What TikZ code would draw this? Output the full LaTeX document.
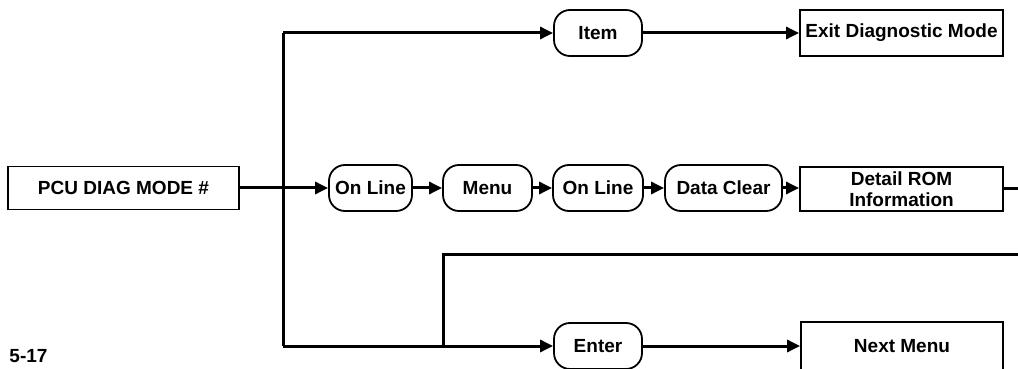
\documentclass[tikz,border=0pt]{standalone}
\usepackage{fontspec}
\setmainfont{Liberation Sans}
\usetikzlibrary{arrows.meta}

\begin{document}
\begin{tikzpicture}[x=0.5pt,y=-0.5pt,
      font=\fontsize{9.5}{10.4}\selectfont\bfseries,
      line width=1.5pt,
      box/.style={draw,line width=0.9pt,inner sep=0pt,align=center},
      keybox/.style={draw,line width=0.9pt,inner sep=0pt,rounded corners=8pt,minimum height=23pt},
      flow/.style={-{Triangle[length=6.5pt,width=6pt]}}]
      \useasboundingbox (0,0) rectangle (1018,369);
      % boxes
      \node[box,minimum width=115.5pt,minimum height=21.5pt] (pcu) at (123.5,188) {PCU DIAG MODE \#};
      \node[box,minimum width=101.5pt,minimum height=23pt] (exit) at (901.5,33) {Exit Diagnostic Mode};
      \node[box,minimum width=101.5pt,minimum height=22pt] (detail) at (901.5,189) {Detail ROM\\Information};
      \node[box,minimum width=101pt,minimum height=24pt] (next) at (902,346) {Next Menu};
      % keys
      \node[keybox,minimum width=44pt] (item) at (598,33) {Item};
      \node[keybox,minimum width=41.5pt] (online1) at (370.5,188) {On Line};
      \node[keybox,minimum width=44.5pt] (menu) at (487.5,188) {Menu};
      \node[keybox,minimum width=45pt] (online2) at (598,188) {On Line};
      \node[keybox,minimum width=58.5pt] (dataclr) at (723.5,188) {Data Clear};
      \node[keybox,minimum width=44pt] (enter) at (598,346) {Enter};
      \node (fig) at (28.5,356) {5-17};
      % branch points
      \coordinate (top) at (283,33);
      \coordinate (split) at (283,188);
      \coordinate (bot) at (283,346);
      \coordinate (loop) at (443,346);
      \coordinate (loopend) at (1018,254);
      \coordinate (detailend) at (1018,189);
      % lines
      \draw (pcu) -- (split);
      \draw (top) -- (bot);
      \draw[flow] (top) -- (item);
      \draw[flow] (item) -- (exit);
      \draw[flow] (split) -- (online1);
      \draw[flow] (online1) -- (menu);
      \draw[flow] (menu) -- (online2);
      \draw[flow] (online2) -- (dataclr);
      \draw[flow] (dataclr) -- (dataclr -| detail.west);
      \draw (detail) -- (detailend);
      \draw[flow] (bot) -- (enter);
      \draw[flow] (enter) -- (next);
      \draw (loop) |- (loopend);
\end{tikzpicture}
\end{document}
